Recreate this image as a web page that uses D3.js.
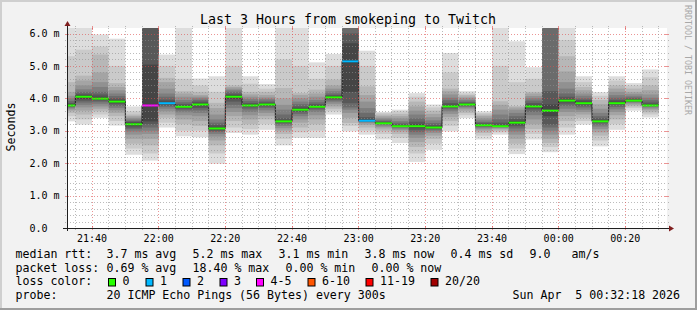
<!DOCTYPE html>
<html>
<head>
<meta charset="utf-8">
<script src="https://cdn.jsdelivr.net/npm/d3@7"></script>
<style>
body { margin: 0; background: #f2f2f2; }
svg { display: block; }
text { font-family: "DejaVu Sans Mono", monospace; white-space: pre; }
</style>
</head>
<body>
<svg id="chart" width="697" height="310"></svg>
<script>
// 5 minute steps, end time of each step
var times = ["21:35","21:40","21:45","21:50","21:55","22:00","22:05","22:10","22:15","22:20","22:25","22:30",
             "22:35","22:40","22:45","22:50","22:55","23:00","23:05","23:10","23:15","23:20","23:25","23:30",
             "23:35","23:40","23:45","23:50","23:55","00:00","00:05","00:10","00:15","00:20","00:25","00:30"];
// median rtt (ms)
var medians = [3.78,4.05,3.99,3.90,3.20,3.78,3.85,3.74,3.81,3.07,4.05,3.78,
               3.81,3.29,3.65,3.74,4.03,5.14,3.31,3.23,3.14,3.14,3.10,3.75,
               3.81,3.17,3.14,3.25,3.75,3.62,3.93,3.85,3.29,3.85,3.93,3.78];
// lost pings out of 20
var lost = [0,0,0,0,0,4,1,0,0,0,0,0,
            0,0,0,0,0,1,1,0,0,0,0,0,
            0,0,0,0,0,0,0,0,0,0,0,0];
// 20 sorted ping times per step (ms)
var pings = [
  [3.29,3.45,3.55,3.62,3.66,3.70,3.73,3.75,3.77,3.78,3.79,3.82,3.86,3.92,4.00,4.08,4.20,4.50,5.30,6.30],
  [3.19,3.35,3.50,3.62,3.72,3.80,3.87,3.93,3.98,4.04,4.06,4.10,4.14,4.20,4.28,4.40,4.55,4.70,5.50,6.30],
  [3.40,3.50,3.60,3.68,3.75,3.82,3.88,3.93,3.96,3.98,4.00,4.05,4.12,4.20,4.35,4.50,4.80,5.35,5.60,5.97],
  [3.16,3.30,3.45,3.55,3.63,3.70,3.76,3.82,3.86,3.89,3.91,3.95,4.00,4.07,4.15,4.25,4.35,4.47,5.00,5.84],
  [2.26,2.45,2.60,2.75,2.88,2.98,3.05,3.10,3.15,3.19,3.21,3.25,3.28,3.31,3.35,3.40,3.45,3.50,3.60,3.75],
  [2.08,2.30,2.55,2.75,2.90,3.00,3.10,3.20,3.29,3.76,3.80,5.04,6.30,6.50,6.70,6.90,7.20,7.60,8.20,9.00],
  [3.10,3.25,3.40,3.50,3.60,3.68,3.74,3.78,3.82,3.84,3.86,3.90,3.96,4.05,4.15,4.30,4.50,4.63,5.00,5.35],
  [2.83,3.00,3.20,3.35,3.48,3.57,3.63,3.68,3.71,3.73,3.75,3.78,3.82,3.88,3.95,4.05,4.15,4.22,4.60,6.30],
  [2.80,3.00,3.15,3.30,3.45,3.55,3.63,3.70,3.76,3.80,3.82,3.86,3.90,3.95,4.00,4.05,4.10,4.20,4.40,4.61],
  [1.98,2.30,2.55,2.70,2.82,2.90,2.96,3.00,3.04,3.06,3.08,3.12,3.18,3.25,3.35,3.50,3.70,3.86,4.20,4.68],
  [2.93,3.10,3.30,3.45,3.58,3.70,3.80,3.90,3.98,4.04,4.06,4.10,4.14,4.20,4.25,4.30,4.35,4.40,5.00,6.30],
  [2.88,3.05,3.20,3.35,3.48,3.58,3.66,3.72,3.75,3.77,3.79,3.82,3.86,3.92,3.98,4.05,4.12,4.20,4.45,4.68],
  [3.03,3.20,3.35,3.45,3.55,3.63,3.70,3.75,3.78,3.80,3.82,3.85,3.88,3.93,3.98,4.03,4.10,4.20,4.30,4.44],
  [2.55,2.75,2.90,3.00,3.08,3.15,3.20,3.24,3.27,3.28,3.30,3.33,3.38,3.50,3.65,3.80,4.00,4.32,5.20,6.30],
  [2.78,2.95,3.10,3.25,3.35,3.45,3.52,3.58,3.62,3.64,3.66,3.70,3.75,3.82,3.90,4.00,4.10,4.16,5.00,6.30],
  [2.78,3.00,3.20,3.35,3.48,3.58,3.65,3.69,3.72,3.73,3.75,3.78,3.82,3.88,3.95,4.05,4.15,4.27,4.60,5.11],
  [3.50,3.60,3.68,3.75,3.82,3.88,3.93,3.97,4.00,4.02,4.04,4.07,4.10,4.15,4.22,4.30,4.40,4.58,5.00,5.37],
  [2.98,3.15,3.24,3.40,3.55,3.65,3.72,3.85,4.20,5.10,5.18,5.70,6.00,6.40,6.60,6.80,7.00,7.50,8.00,9.00],
  [2.88,3.00,3.10,3.18,3.23,3.26,3.28,3.30,3.31,3.32,3.33,3.36,3.42,3.55,3.70,3.90,4.10,4.37,5.00,5.47],
  [2.73,2.90,3.00,3.07,3.12,3.16,3.19,3.21,3.22,3.23,3.24,3.26,3.28,3.31,3.35,3.40,3.45,3.50,3.55,3.58],
  [2.62,2.78,2.90,2.98,3.03,3.07,3.10,3.12,3.13,3.14,3.15,3.17,3.20,3.25,3.30,3.38,3.45,3.52,3.60,3.65],
  [2.04,2.30,2.50,2.65,2.78,2.88,2.96,3.03,3.09,3.13,3.15,3.20,3.28,3.38,3.50,3.62,3.75,3.90,4.05,4.16],
  [2.41,2.60,2.75,2.85,2.93,2.99,3.03,3.06,3.08,3.10,3.11,3.14,3.18,3.24,3.32,3.42,3.52,3.62,3.72,3.81],
  [2.98,3.15,3.30,3.42,3.52,3.60,3.66,3.70,3.73,3.75,3.76,3.80,3.86,3.94,4.02,4.12,4.22,4.30,4.80,5.40],
  [3.39,3.48,3.55,3.62,3.68,3.72,3.75,3.78,3.80,3.81,3.82,3.84,3.87,3.90,3.95,4.00,4.05,4.10,4.15,4.22],
  [2.73,2.85,2.93,3.00,3.05,3.09,3.12,3.14,3.16,3.17,3.18,3.20,3.23,3.27,3.32,3.38,3.45,3.50,3.55,3.60],
  [2.88,2.95,3.00,3.05,3.08,3.10,3.12,3.13,3.14,3.14,3.15,3.18,3.25,3.35,3.50,3.65,3.80,3.91,5.00,6.30],
  [2.28,2.45,2.60,2.75,2.88,2.98,3.07,3.14,3.20,3.24,3.26,3.30,3.36,3.45,3.55,3.65,3.72,3.76,4.50,5.76],
  [2.73,2.90,3.05,3.20,3.35,3.48,3.58,3.66,3.71,3.74,3.76,3.80,3.86,3.93,4.00,4.07,4.15,4.20,4.60,4.96],
  [2.34,2.50,2.62,2.75,2.88,3.00,3.10,3.19,3.45,3.60,3.64,3.81,4.22,6.30,6.50,6.70,6.90,7.20,7.60,8.50],
  [2.88,3.10,3.30,3.45,3.58,3.68,3.77,3.84,3.89,3.92,3.94,3.98,4.05,4.15,4.30,4.50,4.83,5.30,5.80,6.30],
  [3.19,3.30,3.40,3.50,3.58,3.65,3.72,3.78,3.82,3.84,3.86,3.90,3.95,4.00,4.08,4.15,4.25,4.35,4.50,4.68],
  [2.52,2.70,2.85,2.95,3.05,3.13,3.19,3.24,3.27,3.28,3.30,3.33,3.38,3.45,3.55,3.68,3.82,3.95,4.08,4.19],
  [3.03,3.20,3.35,3.48,3.58,3.66,3.73,3.79,3.83,3.85,3.86,3.90,3.95,4.02,4.10,4.20,4.30,4.40,4.55,4.68],
  [3.62,3.70,3.75,3.80,3.84,3.87,3.89,3.91,3.92,3.93,3.94,3.96,3.99,4.03,4.08,4.14,4.20,4.30,4.40,4.47],
  [3.41,3.50,3.57,3.63,3.68,3.72,3.75,3.77,3.78,3.78,3.79,3.82,3.87,3.94,4.02,4.12,4.25,4.40,4.65,4.89]
];
var yTicks = [0,1,2,3,4,5,6];
var yTickLabels = ["0.0","1.0 m","2.0 m","3.0 m","4.0 m","5.0 m","6.0 m"];
var xTickLabels = ["21:40","22:00","22:20","22:40","23:00","23:20","23:40","00:00","00:20"];
var lossLabels = ["0","1","2","3","4-5","6-10","11-19","20/20"];
var lossColors = ["#26ff00","#00b8ff","#0059ff","#7e00ff","#ff00ff","#ff5500","#ff0000","#a10000"];

var W = 697, H = 310;
var pLeft = 67, pRight = 667, pTop = 28, pBottom = 228;

function parseT(s) {
    var p = s.split(":").map(Number);
    var day = p[0] < 12 ? 5 : 4;
    return new Date(2026, 3, day, p[0], p[1], 0);
}
var tStart = new Date(2026, 3, 4, 21, 32, 30);
var tEnd = new Date(2026, 3, 5, 0, 32, 30);

var x = d3.scaleTime().domain([tStart, tEnd]).range([pLeft, pRight]);
var y = d3.scaleLinear().domain([0, 6.17]).range([pBottom, pTop]);

var svg = d3.select("#chart");

// background + 3d frame
svg.append("rect").attr("width", W).attr("height", H).attr("fill", "#f2f2f2");
svg.append("path").attr("d", "M0,0H697V2H2V310H0Z").attr("fill", "#cfcfcf");
svg.append("path").attr("d", "M697,0V310H0V308H695V0Z").attr("fill", "#9e9e9e");

svg.append("rect").attr("x", pLeft).attr("y", pTop).attr("width", pRight - pLeft).attr("height", pBottom - pTop).attr("fill", "#fff");

svg.append("clipPath").attr("id", "plotclip").append("rect")
    .attr("x", pLeft).attr("y", pTop).attr("width", pRight - pLeft).attr("height", pBottom - pTop);

var plot = svg.append("g").attr("clip-path", "url(#plotclip)");

function lossIndex(n) {
    if (n <= 3) return n;
    if (n <= 5) return 4;
    if (n <= 10) return 5;
    if (n < 20) return 6;
    return 7;
}

var cols = times.map(function (s, i) {
    var t1 = parseT(s);
    var t0 = d3.timeMinute.offset(t1, -5);
    return { x0: Math.max(x(t0), pLeft), x1: x(t1), med: medians[i], lost: lost[i], p: pings[i] };
});

// smoke
cols.forEach(function (c) {
    for (var i = 1; i <= 10; i++) {
        var lo = c.p[i - 1], hi = c.p[20 - i];
        var g = Math.floor(190 / 10 * (10 - i) + 50);
        plot.append("rect")
            .attr("x", c.x0).attr("width", c.x1 - c.x0)
            .attr("y", y(hi)).attr("height", y(lo) - y(hi))
            .attr("fill", d3.rgb(g, g, g));
    }
});

// black median step line
var pts = cols.map(function (c) { return [c.x0, y(c.med)]; });
pts.push([cols[cols.length - 1].x1, y(cols[cols.length - 1].med)]);
plot.append("path").attr("d", d3.line().curve(d3.curveStepAfter)(pts))
    .attr("fill", "none").attr("stroke", "#202020").attr("stroke-width", 1);

// loss coloured medians
plot.selectAll(".med").data(cols).enter().append("line")
    .attr("x1", function (c) { return c.x0; }).attr("x2", function (c) { return c.x1; })
    .attr("y1", function (c) { return y(c.med); }).attr("y2", function (c) { return y(c.med); })
    .attr("stroke", function (c) { return lossColors[lossIndex(c.lost)]; })
    .attr("stroke-width", 2);

// grid (drawn over the smoke, like rrdtool)
var gridMinor = "rgba(143,143,143,0.6)";
var gridMajor = "rgba(222,79,79,0.6)";
var grid = svg.append("g");
d3.range(0, 6.17, 0.2).forEach(function (v) {
    var major = Math.abs(v - Math.round(v)) < 1e-6;
    var yy = Math.round(y(v)) + 0.5;
    if (v > 0) {
        grid.append("line").attr("x1", pLeft).attr("x2", pRight).attr("y1", yy).attr("y2", yy)
            .attr("stroke", major ? gridMajor : gridMinor).attr("stroke-dasharray", "1,2");
    }
    grid.append("line").attr("x1", pLeft - 2).attr("x2", major ? pLeft + 2 : pLeft - 1).attr("y1", yy).attr("y2", yy)
        .attr("stroke", major ? gridMajor : gridMinor);
    grid.append("line").attr("x1", major ? pRight - 2 : pRight + 1).attr("x2", pRight + 2).attr("y1", yy).attr("y2", yy)
        .attr("stroke", major ? gridMajor : gridMinor);
});
x.ticks(d3.timeMinute.every(5)).forEach(function (t) {
    var major = t.getMinutes() % 20 === 0;
    var xx = Math.floor(x(t)) + 0.5;
    grid.append("line").attr("x1", xx).attr("x2", xx).attr("y1", pTop).attr("y2", pBottom)
        .attr("stroke", major ? gridMajor : gridMinor).attr("stroke-dasharray", "1,2");
    grid.append("line").attr("x1", xx).attr("x2", xx).attr("y1", pBottom - (major ? 2 : -1)).attr("y2", pBottom + 2)
        .attr("stroke", major ? gridMajor : gridMinor);
    grid.append("line").attr("x1", xx).attr("x2", xx).attr("y1", pTop - 2).attr("y2", pTop + (major ? 2 : -1))
        .attr("stroke", major ? gridMajor : gridMinor);
});

// axes
svg.append("line").attr("x1", pLeft - 4).attr("x2", pRight + 3).attr("y1", pBottom + 0.5).attr("y2", pBottom + 0.5)
    .attr("stroke", "#1f1f1f");
svg.append("line").attr("x1", pLeft + 0.5).attr("x2", pLeft + 0.5).attr("y1", pBottom + 3).attr("y2", pTop - 4)
    .attr("stroke", "#1f1f1f");
svg.append("path").attr("d", "M" + (pRight + 2) + "," + (pBottom - 2.5) + "L" + (pRight + 7) + "," + (pBottom + 0.5) + "L" + (pRight + 2) + "," + (pBottom + 3.5) + "Z")
    .attr("fill", "#801f1f");
svg.append("path").attr("d", "M" + (pLeft - 2.5) + "," + (pTop - 2) + "L" + (pLeft + 0.5) + "," + (pTop - 7) + "L" + (pLeft + 3.5) + "," + (pTop - 2) + "Z")
    .attr("fill", "#801f1f");

// y labels
svg.selectAll(".ylab").data(yTicks).enter().append("text")
    .attr("x", 29.5).attr("y", function (d) { return y(d) + 3.7; })
    .attr("font-size", "10px").attr("fill", "#000")
    .text(function (d, i) { return yTickLabels[i]; });

// x labels
svg.selectAll(".xlab").data(xTickLabels).enter().append("text")
    .attr("x", function (d) { return x(parseT(d)); }).attr("y", 241.5)
    .attr("text-anchor", "middle").attr("font-size", "10px").attr("fill", "#000")
    .text(function (d) { return d; });

// title + axis title + watermark
svg.append("text").attr("x", 348).attr("y", 24).attr("text-anchor", "middle")
    .attr("font-size", "13.3px").attr("fill", "#000").text("Last 3 Hours from smokeping to Twitch");
svg.append("text").attr("transform", "translate(15,127) rotate(-90)").attr("text-anchor", "middle")
    .attr("font-size", "11.6px").attr("fill", "#000").text("Seconds");
svg.append("text").attr("transform", "translate(685,5) rotate(90)")
    .attr("font-size", "8.3px").attr("fill", "#a8a8a8").text("RRDTOOL / TOBI OETIKER");

// legend
var legend = [
    [257.8, [[15.5, "median rtt:"], [106.5, "3.7 ms avg"], [192.5, "5.2 ms max"], [278.5, "3.1 ms min"],
             [364.5, "3.8 ms now"], [450.5, "0.4 ms sd"], [529.5, "9.0"], [571.5, "am/s"]]],
    [271.6, [[15.5, "packet loss:"], [106.5, "0.69 % avg"], [192.5, "18.40 % max"], [285.5, "0.00 % min"],
             [371.5, "0.00 % now"]]],
    [285.4, [[15.5, "loss color:"]]],
    [299.2, [[15.5, "probe:"], [106.5, "20 ICMP Echo Pings (56 Bytes) every 300s"], [512.5, "Sun Apr  5 00:32:18 2026"]]]
];
legend.forEach(function (row) {
    row[1].forEach(function (s) {
        svg.append("text").attr("x", s[0]).attr("y", row[0]).attr("font-size", "11.6px")
            .attr("fill", "#000").text(s[1]);
    });
});
var boxX = [108, 145.5, 182.5, 219.5, 256, 307.5, 365.5, 430.5];
lossLabels.forEach(function (l, i) {
    svg.append("rect").attr("x", boxX[i] + 0.5).attr("y", 278.5).attr("width", 7).attr("height", 7.5)
        .attr("fill", lossColors[i]).attr("stroke", "#000").attr("stroke-width", 1);
    svg.append("text").attr("x", boxX[i] + 14.5).attr("y", 285.4).attr("font-size", "11.6px")
        .attr("fill", "#000").text(l);
});
</script>
</body>
</html>
